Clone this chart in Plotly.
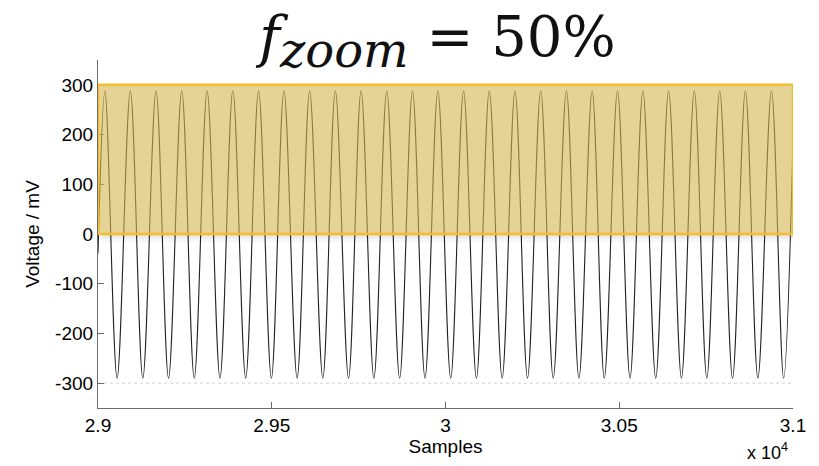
import plotly.graph_objects as go

# ---- data ----
peak_samples = [29020, 29093, 29167, 29241, 29314, 29388, 29462, 29535, 29609,
                29683, 29757, 29831, 29905, 29978, 30052, 30126, 30200, 30274,
                30348, 30422, 30495, 30568, 30642, 30716, 30789, 30863, 30938]
trough_samples = [29055, 29129, 29203, 29277, 29351, 29425, 29499, 29573, 29647,
                  29721, 29794, 29868, 29941, 30015, 30089, 30163, 30236, 30310,
                  30384, 30457, 30531, 30605, 30679, 30752, 30826, 30899, 30973]
peak_mv = 288
trough_mv = -290
start_sample, start_mv = 29000, -39
end_sample, end_mv = 31000, 190

zoom_box = dict(x0=29000, x1=31000, y0=0, y1=300)

x_tickvals = [29000, 29500, 30000, 30500, 31000]
x_ticktext = ["2.9", "2.95", "3", "3.05", "3.1"]
y_tickvals = [-300, -200, -100, 0, 100, 200, 300]
y_ticktext = ["-300", "-200", "-100", "0", "100", "200", "300"]

# merge extrema into one ordered series
pts = [(start_sample, start_mv)]
pts += [(s, peak_mv) for s in peak_samples]
pts += [(s, trough_mv) for s in trough_samples]
pts.append((end_sample, end_mv))
pts.sort()
xs = [p[0] for p in pts]
ys = [p[1] for p in pts]

fig = go.Figure()
fig.add_trace(go.Scatter(x=xs, y=ys, mode="lines",
                         line=dict(color="#222222", width=1.1, shape="spline", smoothing=1),
                         showlegend=False, hoverinfo="skip"))

# faint dotted reference lines
for yv in (-300, 300):
    fig.add_shape(type="line", xref="x", yref="y", x0=29000, x1=31000, y0=yv, y1=yv,
                  line=dict(color="#d0d0d0", width=1, dash="dot"), layer="below")

# shadow under the zoom box
for i, a in enumerate([0.13, 0.09, 0.06, 0.035, 0.02]):
    fig.add_shape(type="rect", xref="x", yref="y",
                  x0=zoom_box["x0"] + 10, x1=zoom_box["x1"],
                  y0=-3.5 * (i + 1), y1=-3.5 * i,
                  fillcolor=f"rgba(0,0,0,{a})", line=dict(width=0), layer="above")

# zoom box
fig.add_shape(type="rect", xref="x", yref="y", **zoom_box,
              fillcolor="rgba(212,182,80,0.6)",
              line=dict(color="#F3BE2E", width=2.5), layer="above")

fig.add_annotation(text="x 10<sup>4</sup>", xref="paper", yref="paper",
                   x=0.995, y=-0.125, xanchor="right", yanchor="middle",
                   showarrow=False, font=dict(family="Liberation Sans, Arial", size=18, color="black"))

axis_common = dict(showline=True, linecolor="#6b6b6b", linewidth=1.2, mirror=False,
                   ticks="inside", ticklen=6, tickcolor="#6b6b6b", showgrid=False,
                   zeroline=False,
                   tickfont=dict(family="Liberation Sans, Arial", size=19, color="black"))

fig.update_xaxes(range=[29000, 31000], tickvals=x_tickvals, ticktext=x_ticktext,
                 title=dict(text="Samples", standoff=4,
                            font=dict(family="Liberation Sans, Arial", size=19, color="black")),
                 **axis_common)
fig.update_yaxes(range=[-350, 350], tickvals=y_tickvals, ticktext=y_ticktext,
                 title=dict(text="Voltage / mV", standoff=10,
                            font=dict(family="Liberation Sans, Arial", size=19, color="black")),
                 **axis_common)

fig.update_layout(
    width=819, height=466,
    margin=dict(l=98, r=26, t=60, b=58),
    paper_bgcolor="white", plot_bgcolor="white",
    title=dict(text="<i>f</i><sub><span style='font-size:48px'><i>zoom</i></span></sub> = 50%",
               font=dict(family="DejaVu Serif, serif", size=56, color="#111"),
               x=400 / 819, xanchor="center", xref="paper",
               y=1 - 36 / 466, yanchor="middle", yref="container"),
)

fig.write_html("out.html")
